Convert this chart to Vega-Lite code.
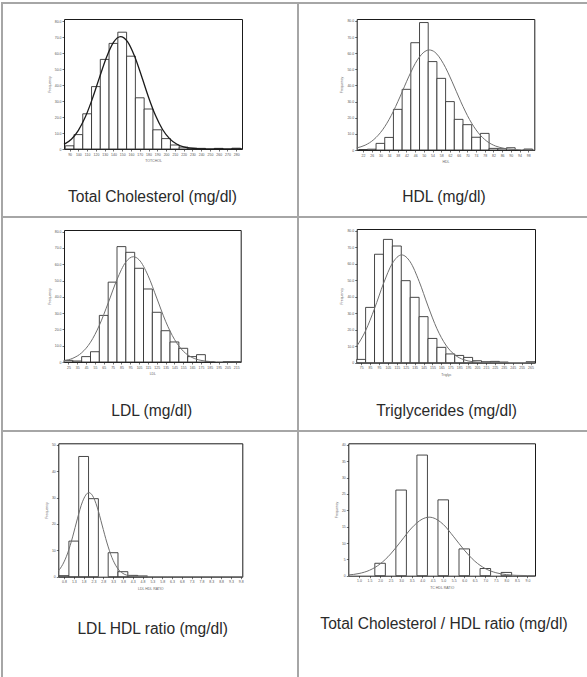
{
  "$schema": "https://vega.github.io/schema/vega-lite/v6.json",
  "background": "white",
  "padding": {"left": 1, "top": 2, "right": 0, "bottom": 0},
  "columns": 2,
  "spacing": 0,
  "bounds": "flush",
  "align": "each",
  "config": {
    "view": {"stroke": "#a6a6a6", "strokeWidth": 2},
    "axis": {"grid": false, "domainColor": "#1a1a1a", "domainWidth": 1, "tickColor": "#333", "tickSize": 2, "tickWidth": 0.7, "labelFontSize": 3.5, "labelColor": "#555", "labelPadding": 1, "labelFont": "Liberation Sans", "titleFont": "Liberation Sans", "titleFontSize": 3.5, "titleFontWeight": "normal", "titleColor": "#666", "titlePadding": 3, "labelOverlap": false, "labelFlush": false, "labelBound": false},
    "title": {"font": "Liberation Sans", "fontSize": 15.6, "fontWeight": "normal", "color": "#2a2a2a", "orient": "bottom", "frame": "group", "baseline": "alphabetic", "anchor": "middle"}
  },
  "concat": [
    {
      "width": 296, "height": 214,
      "title": {"text": "Total Cholesterol (mg/dl)", "offset": -27, "dx": 2.5},
      "layer": [
        {
          "data": {"values": [
            {"start": 85, "end": 95, "count": 2}, {"start": 95, "end": 105, "count": 9}, {"start": 105, "end": 115, "count": 22},
            {"start": 115, "end": 125, "count": 39}, {"start": 125, "end": 135, "count": 56}, {"start": 135, "end": 145, "count": 66},
            {"start": 145, "end": 155, "count": 73}, {"start": 155, "end": 165, "count": 58}, {"start": 165, "end": 175, "count": 32},
            {"start": 175, "end": 185, "count": 25}, {"start": 185, "end": 195, "count": 12}, {"start": 195, "end": 205, "count": 6.5},
            {"start": 205, "end": 215, "count": 2.5}, {"start": 215, "end": 225, "count": 1.2}, {"start": 225, "end": 235, "count": 0.6},
            {"start": 235, "end": 245, "count": 0.4}, {"start": 255, "end": 265, "count": 0.4}, {"start": 275, "end": 285, "count": 0.5}
          ]},
          "mark": {"type": "bar", "fill": "white", "stroke": "#333", "strokeWidth": 0.9},
          "encoding": {
            "x": {"field": "start", "type": "quantitative", "scale": {"domain": [83.6, 286.6], "range": [62, 240], "nice": false, "zero": false},
                  "axis": {"orient": "bottom", "offset": -68, "values": [90,100,110,120,130,140,150,160,170,180,190,200,210,220,230,240,250,260,270,280], "title": "TOTCHOL"}},
            "x2": {"field": "end"},
            "y": {"field": "count", "type": "quantitative", "scale": {"domain": [0, 81.25], "range": [146, 16], "nice": false},
                  "axis": {"orient": "left", "offset": -62, "values": [0,10,20,30,40,50,60,70,80], "title": "Frequency", "labelExpr": "datum.value == 0 ? '0' : format(datum.value, '.1f')"}},
            "y2": {"datum": 0}
          }
        },
        {
          "data": {"values": [
            {"x": 83.6, "y": 2.9}, {"x": 92, "y": 6.1}, {"x": 100, "y": 11.7}, {"x": 108, "y": 20.1}, {"x": 116, "y": 31.5},
            {"x": 124, "y": 44.6}, {"x": 132, "y": 57.2}, {"x": 140, "y": 66.6}, {"x": 148, "y": 70.2}, {"x": 156, "y": 67.1},
            {"x": 164, "y": 58.1}, {"x": 172, "y": 45.6}, {"x": 180, "y": 32.4}, {"x": 188, "y": 20.9}, {"x": 196, "y": 12.2},
            {"x": 204, "y": 6.5}, {"x": 212, "y": 3.1}, {"x": 220, "y": 1.35}, {"x": 228, "y": 0.53}, {"x": 240, "y": 0.11},
            {"x": 260, "y": 0}, {"x": 286.6, "y": 0}
          ]},
          "mark": {"type": "line", "stroke": "#1a1a1a", "strokeWidth": 1.3, "interpolate": "monotone"},
          "encoding": {
            "x": {"field": "x", "type": "quantitative", "scale": {"domain": [83.6, 286.6], "range": [62, 240], "nice": false, "zero": false},
                  "axis": {"orient": "top", "offset": -16, "labels": false, "ticks": false, "title": null}},
            "y": {"field": "y", "type": "quantitative", "scale": {"domain": [0, 81.25], "range": [146, 16], "nice": false},
                  "axis": {"orient": "right", "offset": -56, "labels": false, "ticks": false, "title": null}}
          }
        }
      ]
    },
    {
      "width": 290, "height": 214,
      "title": {"text": "HDL (mg/dl)", "offset": -27, "dx": 1},
      "layer": [
        {
          "data": {"values": [
            {"start": 20, "end": 24, "count": 0.3}, {"start": 24, "end": 28, "count": 0.5}, {"start": 28, "end": 32, "count": 4.1},
            {"start": 32, "end": 36, "count": 7.8}, {"start": 36, "end": 40, "count": 25.2}, {"start": 40, "end": 44, "count": 37.6},
            {"start": 44, "end": 48, "count": 66.5}, {"start": 48, "end": 52, "count": 79}, {"start": 52, "end": 56, "count": 54.8},
            {"start": 56, "end": 60, "count": 44.4}, {"start": 60, "end": 64, "count": 30}, {"start": 64, "end": 68, "count": 19},
            {"start": 68, "end": 72, "count": 15.7}, {"start": 72, "end": 76, "count": 7.9}, {"start": 76, "end": 80, "count": 10.3},
            {"start": 80, "end": 84, "count": 1}, {"start": 84, "end": 88, "count": 0.8}, {"start": 88, "end": 92, "count": 1.4},
            {"start": 96, "end": 100, "count": 0.6}
          ]},
          "mark": {"type": "bar", "fill": "white", "stroke": "#333", "strokeWidth": 0.9},
          "encoding": {
            "x": {"field": "start", "type": "quantitative", "scale": {"domain": [19.1, 100.8], "range": [58.7, 236.3], "nice": false, "zero": false},
                  "axis": {"orient": "bottom", "offset": -67, "values": [22,26,30,34,38,42,46,50,54,58,62,66,70,74,78,82,86,90,94,98], "title": "HDL"}},
            "x2": {"field": "end"},
            "y": {"field": "count", "type": "quantitative", "scale": {"domain": [0, 81.2], "range": [147, 16], "nice": false},
                  "axis": {"orient": "left", "offset": -58.7, "values": [0,10,20,30,40,50,60,70,80], "title": "Frequency", "labelExpr": "datum.value == 0 ? '0' : format(datum.value, '.1f')"}},
            "y2": {"datum": 0}
          }
        },
        {
          "data": {"values": [
            {"x": 19.1, "y": 1.3}, {"x": 23, "y": 3.0}, {"x": 27, "y": 6.5}, {"x": 31, "y": 12.5}, {"x": 35, "y": 21.4},
            {"x": 39, "y": 32.9}, {"x": 43, "y": 45.3}, {"x": 47, "y": 55.8}, {"x": 51, "y": 61.5}, {"x": 52.5, "y": 62},
            {"x": 55, "y": 60.7}, {"x": 59, "y": 53.5}, {"x": 63, "y": 42.3}, {"x": 67, "y": 29.9}, {"x": 71, "y": 18.9},
            {"x": 75, "y": 10.7}, {"x": 79, "y": 5.4}, {"x": 83, "y": 2.45}, {"x": 87, "y": 1.0}, {"x": 91, "y": 0.36},
            {"x": 95, "y": 0.12}, {"x": 100.8, "y": 0.01}
          ]},
          "mark": {"type": "line", "stroke": "#707070", "strokeWidth": 1, "interpolate": "monotone"},
          "encoding": {
            "x": {"field": "x", "type": "quantitative", "scale": {"domain": [19.1, 100.8], "range": [58.7, 236.3], "nice": false, "zero": false},
                  "axis": {"orient": "top", "offset": -16, "labels": false, "ticks": false, "title": null}},
            "y": {"field": "y", "type": "quantitative", "scale": {"domain": [0, 81.2], "range": [147, 16], "nice": false},
                  "axis": {"orient": "right", "offset": -53.7, "labels": false, "ticks": false, "title": null}}
          }
        }
      ]
    },
    {
      "width": 296, "height": 214,
      "title": {"text": "LDL (mg/dl)", "offset": -27, "dx": 1.7},
      "layer": [
        {
          "data": {"values": [
            {"start": 20, "end": 30, "count": 1}, {"start": 30, "end": 40, "count": 0.6}, {"start": 40, "end": 50, "count": 3.3},
            {"start": 50, "end": 60, "count": 6.3}, {"start": 60, "end": 70, "count": 28.6}, {"start": 70, "end": 80, "count": 49},
            {"start": 80, "end": 90, "count": 70.8}, {"start": 90, "end": 100, "count": 67.3}, {"start": 100, "end": 110, "count": 57.5},
            {"start": 110, "end": 120, "count": 44.8}, {"start": 120, "end": 130, "count": 30.5}, {"start": 130, "end": 140, "count": 19.2},
            {"start": 140, "end": 150, "count": 12.3}, {"start": 150, "end": 160, "count": 8.4}, {"start": 160, "end": 170, "count": 3.3},
            {"start": 170, "end": 180, "count": 4.5}, {"start": 180, "end": 190, "count": 0.3}, {"start": 200, "end": 210, "count": 0.3},
            {"start": 210, "end": 220, "count": 0.3}
          ]},
          "mark": {"type": "bar", "fill": "white", "stroke": "#333", "strokeWidth": 0.9},
          "encoding": {
            "x": {"field": "start", "type": "quantitative", "scale": {"domain": [20, 220], "range": [62, 238.7], "nice": false, "zero": false},
                  "axis": {"orient": "bottom", "offset": -69, "values": [25,35,45,55,65,75,85,95,105,115,125,135,145,155,165,175,185,195,205,215], "title": "LDL"}},
            "x2": {"field": "end"},
            "y": {"field": "count", "type": "quantitative", "scale": {"domain": [0, 81], "range": [145, 13], "nice": false},
                  "axis": {"orient": "left", "offset": -62, "values": [0,10,20,30,40,50,60,70,80], "title": "Frequency", "labelExpr": "datum.value == 0 ? '0' : format(datum.value, '.1f')"}},
            "y2": {"datum": 0}
          }
        },
        {
          "data": {"values": [
            {"x": 20, "y": 0.8}, {"x": 30, "y": 2.3}, {"x": 40, "y": 5.65}, {"x": 50, "y": 12.1}, {"x": 60, "y": 22.5},
            {"x": 70, "y": 36.2}, {"x": 80, "y": 50.6}, {"x": 90, "y": 61.4}, {"x": 98.5, "y": 64.6}, {"x": 105, "y": 62.7},
            {"x": 115, "y": 53.2}, {"x": 125, "y": 39.2}, {"x": 135, "y": 25}, {"x": 145, "y": 13.9}, {"x": 155, "y": 6.65},
            {"x": 165, "y": 2.77}, {"x": 175, "y": 1}, {"x": 185, "y": 0.31}, {"x": 200, "y": 0.04}, {"x": 220, "y": 0}
          ]},
          "mark": {"type": "line", "stroke": "#707070", "strokeWidth": 1, "interpolate": "monotone"},
          "encoding": {
            "x": {"field": "x", "type": "quantitative", "scale": {"domain": [20, 220], "range": [62, 238.7], "nice": false, "zero": false},
                  "axis": {"orient": "top", "offset": -13, "labels": false, "ticks": false, "title": null}},
            "y": {"field": "y", "type": "quantitative", "scale": {"domain": [0, 81], "range": [145, 13], "nice": false},
                  "axis": {"orient": "right", "offset": -57.3, "labels": false, "ticks": false, "title": null}}
          }
        }
      ]
    },
    {
      "width": 290, "height": 214,
      "title": {"text": "Triglycerides (mg/dl)", "offset": -27, "dx": 3.5},
      "layer": [
        {
          "data": {"values": [
            {"start": 70, "end": 80, "count": 2}, {"start": 80, "end": 90, "count": 33.5}, {"start": 90, "end": 100, "count": 65.7},
            {"start": 100, "end": 110, "count": 74.7}, {"start": 110, "end": 120, "count": 70.7}, {"start": 120, "end": 130, "count": 49.7},
            {"start": 130, "end": 140, "count": 39.6}, {"start": 140, "end": 150, "count": 27.9}, {"start": 150, "end": 160, "count": 14.7},
            {"start": 160, "end": 170, "count": 9.3}, {"start": 170, "end": 180, "count": 5.3}, {"start": 180, "end": 190, "count": 4.4},
            {"start": 190, "end": 200, "count": 3.2}, {"start": 200, "end": 210, "count": 1.2}, {"start": 210, "end": 220, "count": 0.6},
            {"start": 220, "end": 230, "count": 0.8}, {"start": 230, "end": 240, "count": 0.4}, {"start": 260, "end": 270, "count": 0.6}
          ]},
          "mark": {"type": "bar", "fill": "white", "stroke": "#333", "strokeWidth": 0.9},
          "encoding": {
            "x": {"field": "start", "type": "quantitative", "scale": {"domain": [70, 270], "range": [58.7, 237], "nice": false, "zero": false},
                  "axis": {"orient": "bottom", "offset": -68.3, "values": [75,85,95,105,115,125,135,145,155,165,175,185,195,205,215,225,235,245,255,265], "title": "Triglyc"}},
            "x2": {"field": "end"},
            "y": {"field": "count", "type": "quantitative", "scale": {"domain": [0, 81], "range": [145.7, 12], "nice": false},
                  "axis": {"orient": "left", "offset": -58.7, "values": [0,10,20,30,40,50,60,70,80], "title": "Frequency", "labelExpr": "datum.value == 0 ? '0' : format(datum.value, '.1f')"}},
            "y2": {"datum": 0}
          }
        },
        {
          "data": {"values": [
            {"x": 70, "y": 9.9}, {"x": 80, "y": 19.4}, {"x": 90, "y": 32.8}, {"x": 100, "y": 47.9}, {"x": 110, "y": 60.2},
            {"x": 120.5, "y": 65.3}, {"x": 130, "y": 61.1}, {"x": 140, "y": 49.3}, {"x": 150, "y": 34.3}, {"x": 160, "y": 20.6},
            {"x": 170, "y": 10.7}, {"x": 180, "y": 4.76}, {"x": 190, "y": 1.83}, {"x": 200, "y": 0.61}, {"x": 210, "y": 0.17},
            {"x": 220, "y": 0.04}, {"x": 240, "y": 0}, {"x": 270, "y": 0}
          ]},
          "mark": {"type": "line", "stroke": "#707070", "strokeWidth": 1, "interpolate": "monotone"},
          "encoding": {
            "x": {"field": "x", "type": "quantitative", "scale": {"domain": [70, 270], "range": [58.7, 237], "nice": false, "zero": false},
                  "axis": {"orient": "top", "offset": -12, "labels": false, "ticks": false, "title": null}},
            "y": {"field": "y", "type": "quantitative", "scale": {"domain": [0, 81], "range": [145.7, 12], "nice": false},
                  "axis": {"orient": "right", "offset": -53, "labels": false, "ticks": false, "title": null}}
          }
        }
      ]
    },
    {
      "width": 296, "height": 250,
      "title": {"text": "LDL HDL ratio (mg/dl)", "offset": -59, "dx": 2.7},
      "layer": [
        {
          "data": {"values": [
            {"start": 0.5, "end": 1, "count": 0.4}, {"start": 1, "end": 1.5, "count": 13.5}, {"start": 1.5, "end": 2, "count": 45.6},
            {"start": 2, "end": 2.5, "count": 29.6}, {"start": 3, "end": 3.5, "count": 9.1}, {"start": 3.5, "end": 4, "count": 1.9},
            {"start": 4, "end": 4.5, "count": 0.5}, {"start": 4.5, "end": 5, "count": 0.3}
          ]},
          "mark": {"type": "bar", "fill": "white", "stroke": "#333", "strokeWidth": 0.9},
          "encoding": {
            "x": {"field": "start", "type": "quantitative", "scale": {"domain": [0.46, 9.83], "range": [56.3, 240.3], "nice": false, "zero": false},
                  "axis": {"orient": "bottom", "offset": -104.3, "values": [0.75,1.25,1.75,2.25,2.75,3.25,3.75,4.25,4.75,5.25,5.75,6.25,6.75,7.25,7.75,8.25,8.75,9.25,9.75], "title": "LDL HDL RATIO"}},
            "x2": {"field": "end"},
            "y": {"field": "count", "type": "quantitative", "scale": {"domain": [0, 50.6], "range": [145.7, 12.3], "nice": false},
                  "axis": {"orient": "left", "offset": -56.3, "values": [0,10,20,30,40,50], "title": "Frequency"}},
            "y2": {"datum": 0}
          }
        },
        {
          "data": {"values": [
            {"x": 0.46, "y": 2.15}, {"x": 0.69, "y": 4.7}, {"x": 0.94, "y": 9.0}, {"x": 1.19, "y": 15.1}, {"x": 1.44, "y": 22.2},
            {"x": 1.69, "y": 28.4}, {"x": 2.02, "y": 31.9}, {"x": 2.19, "y": 30.9}, {"x": 2.44, "y": 26.4}, {"x": 2.69, "y": 19.6},
            {"x": 2.94, "y": 12.8}, {"x": 3.19, "y": 7.3}, {"x": 3.44, "y": 3.6}, {"x": 3.69, "y": 1.56}, {"x": 3.94, "y": 0.59},
            {"x": 4.44, "y": 0.06}, {"x": 4.94, "y": 0}, {"x": 6, "y": 0}, {"x": 9.83, "y": 0}
          ]},
          "mark": {"type": "line", "stroke": "#707070", "strokeWidth": 1, "interpolate": "monotone"},
          "encoding": {
            "x": {"field": "x", "type": "quantitative", "scale": {"domain": [0.46, 9.83], "range": [56.3, 240.3], "nice": false, "zero": false},
                  "axis": {"orient": "top", "offset": -12.3, "labels": false, "ticks": false, "title": null}},
            "y": {"field": "y", "type": "quantitative", "scale": {"domain": [0, 50.6], "range": [145.7, 12.3], "nice": false},
                  "axis": {"orient": "right", "offset": -55.7, "labels": false, "ticks": false, "title": null}}
          }
        }
      ]
    },
    {
      "width": 290, "height": 250,
      "title": {"text": "Total Cholesterol / HDL ratio (mg/dl)", "offset": -64, "dx": 1},
      "layer": [
        {
          "data": {"values": [
            {"start": 1.75, "end": 2.25, "count": 3.8}, {"start": 2.75, "end": 3.25, "count": 26.2}, {"start": 3.75, "end": 4.25, "count": 36.9},
            {"start": 4.75, "end": 5.25, "count": 23.2}, {"start": 5.75, "end": 6.25, "count": 8.2}, {"start": 6.75, "end": 7.25, "count": 2.2},
            {"start": 7.75, "end": 8.25, "count": 1.0}
          ]},
          "mark": {"type": "bar", "fill": "white", "stroke": "#333", "strokeWidth": 0.9},
          "encoding": {
            "x": {"field": "start", "type": "quantitative", "scale": {"domain": [0.49, 9.36], "range": [50.3, 237], "nice": false, "zero": false},
                  "axis": {"orient": "bottom", "offset": -105.3, "values": [1,1.5,2,2.5,3,3.5,4,4.5,5,5.5,6,6.5,7,7.5,8,8.5,9], "title": "TC HDL RATIO"}},
            "x2": {"field": "end"},
            "y": {"field": "count", "type": "quantitative", "scale": {"domain": [0, 40.5], "range": [144.7, 12.3], "nice": false},
                  "axis": {"orient": "left", "offset": -50.3, "values": [0,5,10,15,20,25,30,35,40], "title": "Frequency"}},
            "y2": {"datum": 0}
          }
        },
        {
          "data": {"values": [
            {"x": 0.49, "y": 0.23}, {"x": 1, "y": 0.67}, {"x": 1.5, "y": 1.67}, {"x": 2, "y": 3.59}, {"x": 2.5, "y": 6.64},
            {"x": 3, "y": 10.6}, {"x": 3.5, "y": 14.6}, {"x": 4, "y": 17.3}, {"x": 4.33, "y": 17.9}, {"x": 4.5, "y": 17.75},
            {"x": 5, "y": 15.7}, {"x": 5.5, "y": 11.9}, {"x": 6, "y": 7.84}, {"x": 6.5, "y": 4.44}, {"x": 7, "y": 2.17},
            {"x": 7.5, "y": 0.92}, {"x": 8, "y": 0.33}, {"x": 8.5, "y": 0.1}, {"x": 9, "y": 0.03}, {"x": 9.36, "y": 0.01}
          ]},
          "mark": {"type": "line", "stroke": "#707070", "strokeWidth": 1, "interpolate": "monotone"},
          "encoding": {
            "x": {"field": "x", "type": "quantitative", "scale": {"domain": [0.49, 9.36], "range": [50.3, 237], "nice": false, "zero": false},
                  "axis": {"orient": "top", "offset": -12.3, "labels": false, "ticks": false, "title": null}},
            "y": {"field": "y", "type": "quantitative", "scale": {"domain": [0, 40.5], "range": [144.7, 12.3], "nice": false},
                  "axis": {"orient": "right", "offset": -53, "labels": false, "ticks": false, "title": null}}
          }
        }
      ]
    }
  ]
}
